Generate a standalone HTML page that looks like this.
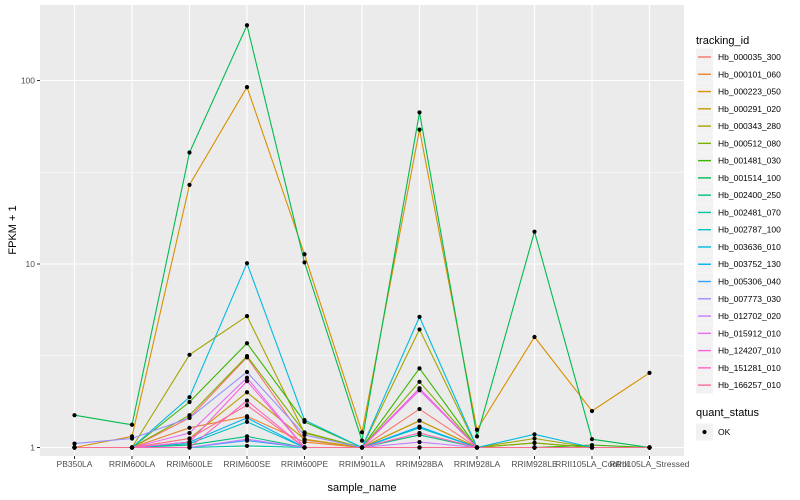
<!DOCTYPE html>
<html><head><meta charset="utf-8"><style>
body{margin:0;background:#fff;}
svg{display:block;font-family:"Liberation Sans",sans-serif;}
</style></head><body>
<svg id="chart" width="800" height="500"></svg>
<script>
const categories=["PB350LA","RRIM600LA","RRIM600LE","RRIM600SE","RRIM600PE","RRIM901LA","RRIM928BA","RRIM928LA","RRIM928LE","RRII105LA_Control","RRII105LA_Stressed"];
const seriesNames=["Hb_000035_300","Hb_000101_060","Hb_000223_050","Hb_000291_020","Hb_000343_280","Hb_000512_080","Hb_001481_030","Hb_001514_100","Hb_002400_250","Hb_002481_070","Hb_002787_100","Hb_003636_010","Hb_003752_130","Hb_005306_040","Hb_007773_030","Hb_012702_020","Hb_015912_010","Hb_124207_010","Hb_151281_010","Hb_166257_010"];
const seriesColors=["#F8766D","#EA8331","#D89000","#C09B00","#A3A500","#7CAE00","#39B600","#00BB4E","#00BF7D","#00C1A3","#00BFC4","#00BAE0","#00B0F6","#35A2FF","#9590FF","#C77CFF","#E76BF3","#FA62DB","#FF62BC","#FF6C91"];
const s01=[1.0,1.0,1.45,3.1,1.1,1.0,1.62,1.0,1.0,1.0,1.0];
const s02=[1.0,1.0,1.28,1.48,1.07,1.0,1.4,1.0,1.0,1.0,1.0];
const s03=[1.0,1.15,27,92,11.3,1.21,54,1.25,4.0,1.58,2.55];
const s04=[1.0,1.0,1.12,2.0,1.11,1.0,1.4,1.0,1.06,1.0,1.0];
const s05=[1.0,1.0,3.2,5.2,1.2,1.0,4.4,1.0,1.12,1.0,1.0];
const s06=[1.0,1.0,1.5,3.15,1.21,1.0,2.28,1.0,1.06,1.0,1.0];
const s07=[1.0,1.0,1.77,3.7,1.38,1.0,2.7,1.0,1.0,1.03,1.0];
const s08=[1.5,1.33,40.5,200,10.2,1.09,67,1.15,15,1.11,1.0];
const s09=[1.0,1.0,1.03,1.15,1.0,1.0,1.17,1.0,1.0,1.0,1.0];
const s10=[1.0,1.0,1.0,1.02,1.0,1.0,1.0,1.0,1.0,1.0,1.0];
const s11=[1.0,1.0,1.05,1.38,1.0,1.0,1.28,1.0,1.0,1.0,1.0];
const s12=[1.0,1.0,1.88,10.1,1.41,1.0,5.15,1.0,1.18,1.0,1.0];
const s13=[1.0,1.0,1.07,1.45,1.0,1.0,1.3,1.0,1.0,1.0,1.0];
const s14=[1.0,1.0,1.0,1.09,1.0,1.0,1.0,1.0,1.0,1.0,1.0];
const s15=[1.05,1.12,1.45,2.58,1.17,1.0,2.1,1.0,1.0,1.0,1.0];
const s16=[1.0,1.0,1.0,1.11,1.0,1.0,1.07,1.0,1.0,1.0,1.0];
const s17=[1.0,1.0,1.2,2.4,1.0,1.0,2.05,1.0,1.0,1.0,1.0];
const s18=[1.0,1.0,1.07,2.3,1.0,1.0,2.1,1.0,1.0,1.0,1.0];
const s19=[1.0,1.0,1.0,1.8,1.0,1.0,1.2,1.0,1.0,1.0,1.0];
const s20=[1.0,1.0,1.12,1.7,1.0,1.0,1.0,1.0,1.0,1.0,1.0];
const seriesValues=[s01,s02,s03,s04,s05,s06,s07,s08,s09,s10,s11,s12,s13,s14,s15,s16,s17,s18,s19,s20];
const yTickValues=[1,10,100];
const yTickLabels=["1","10","100"];
const yMinorValues=[3.1623,31.623];

const NS="http://www.w3.org/2000/svg";
const svg=document.getElementById("chart");
const P={l:40,r:684,t:5,b:456};
const step=(P.r-P.l)/(categories.length-1+1.2);
function xs(i){return P.l+step*(0.6+i);}
function ys(v){return 447.5-183.5*Math.log10(v);}
function mk(tag,attrs,parent){const e=document.createElementNS(NS,tag);for(const k in attrs)e.setAttribute(k,attrs[k]);(parent||svg).appendChild(e);return e;}

const panel=mk("rect",{x:P.l,y:P.t,width:P.r-P.l,height:P.b-P.t,fill:"#EBEBEB"});


yMinorValues.forEach(v=>{const g=mk("line",{x1:P.l,x2:P.r,y1:ys(v),y2:ys(v),stroke:"#fff","stroke-width":0.5});

});
yTickValues.forEach((v,i)=>{const g=mk("line",{x1:P.l,x2:P.r,y1:ys(v),y2:ys(v),stroke:"#fff","stroke-width":1.1});


mk("line",{x1:P.l-3,x2:P.l,y1:ys(v),y2:ys(v),stroke:"#333","stroke-width":1});
const t=mk("text",{x:P.l-5,y:ys(v)+3,"text-anchor":"end","font-size":"8.5",fill:"#4D4D4D"});t.textContent=yTickLabels[i];

});
categories.forEach((c,i)=>{const g=mk("line",{x1:xs(i),x2:xs(i),y1:P.t,y2:P.b,stroke:"#fff","stroke-width":1.1});


mk("line",{x1:xs(i),x2:xs(i),y1:P.b,y2:P.b+3,stroke:"#333","stroke-width":1});
const t=mk("text",{x:xs(i),y:P.b+11,"text-anchor":"middle","font-size":"8.5",fill:"#4D4D4D"});t.textContent=c;

});
seriesValues.forEach((vals,si)=>{const pts=vals.map((v,i)=>xs(i).toFixed(1)+","+ys(v).toFixed(1)).join(" ");
const pl=mk("polyline",{points:pts,fill:"none",stroke:seriesColors[si],"stroke-width":1.1});

});
seriesValues.forEach((vals)=>{vals.forEach((v,i)=>{const r=mk("circle",{cx:xs(i),cy:ys(v),r:2.1,fill:"#000"});

});});
let t=mk("text",{x:(P.l+P.r)/2,y:491,"text-anchor":"middle","font-size":"11",fill:"#000"});t.textContent="sample_name";


t=mk("text",{x:0,y:0,transform:"translate(16,230) rotate(-90)","text-anchor":"middle","font-size":"11",fill:"#000"});t.textContent="FPKM + 1";


t=mk("text",{x:696,y:44,"font-size":"11",fill:"#000"});t.textContent="tracking_id";


seriesNames.forEach((n,i)=>{const cy=57+i*17.27;
const g=mk("g",{});


mk("rect",{x:696,y:cy-8.5,width:17,height:17,fill:"#F2F2F2"},g);
mk("line",{x1:698,x2:711,y1:cy,y2:cy,stroke:seriesColors[i],"stroke-width":1.4},g);
const tt=mk("text",{x:718,y:cy+3,"font-size":"8.5",fill:"#000"},g);tt.textContent=n;});
t=mk("text",{x:696,y:416,"font-size":"11",fill:"#000"});t.textContent="quant_status";


const g2=mk("g",{});


mk("rect",{x:696,y:423.5,width:17,height:17,fill:"#F2F2F2"},g2);
mk("circle",{cx:704.5,cy:432,r:2.1,fill:"#000"},g2);
const ok=mk("text",{x:718,y:435,"font-size":"8.5",fill:"#000"},g2);ok.textContent="OK";
</script>
</body></html>
